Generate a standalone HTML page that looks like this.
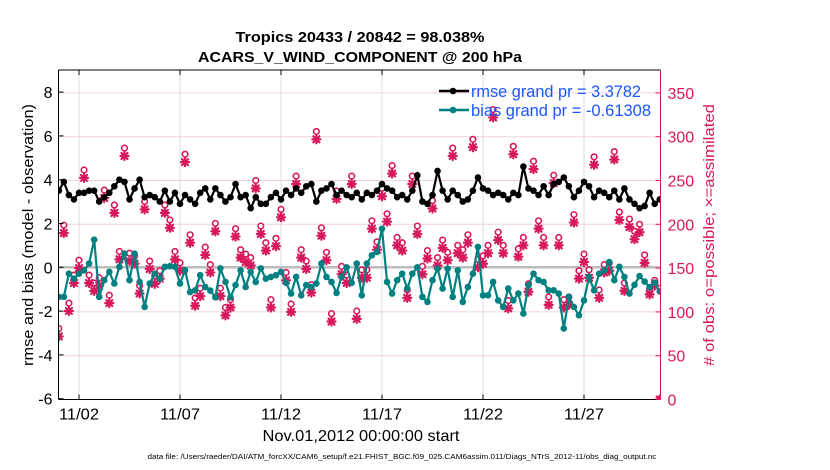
<!DOCTYPE html>
<html><head><meta charset="utf-8"><style>
html,body{margin:0;padding:0;background:#fff;}
svg{display:block;font-family:"Liberation Sans",Arial,sans-serif;}
</style></head><body>
<svg id="chart" width="830" height="470" viewBox="0 0 830 470" xmlns="http://www.w3.org/2000/svg">
<defs><clipPath id="plotclip"><rect x="58.5" y="70" width="602" height="330"/></clipPath></defs>
<text x="360" y="42" text-anchor="middle" font-size="15" font-weight="bold" textLength="249" lengthAdjust="spacingAndGlyphs">Tropics 20433 / 20842 = 98.038%</text>
<text x="360" y="62" text-anchor="middle" font-size="15" font-weight="bold" textLength="324" lengthAdjust="spacingAndGlyphs">ACARS_V_WIND_COMPONENT @ 200 hPa</text>
<g id="grid"></g>
<g id="marks" clip-path="url(#plotclip)"></g>
<g id="axes"></g>
<g id="legend"></g>
<text transform="translate(33,235) rotate(-90)" text-anchor="middle" font-size="15" textLength="262" lengthAdjust="spacingAndGlyphs">rmse and bias (model - observation)</text>
<text transform="translate(714,235) rotate(-90)" text-anchor="middle" font-size="15" fill="#d8185c" textLength="262" lengthAdjust="spacingAndGlyphs"># of obs: o=possible; ×=assimilated</text>
<text x="361" y="441" text-anchor="middle" font-size="16" textLength="197" lengthAdjust="spacingAndGlyphs">Nov.01,2012 00:00:00 start</text>
<text x="402" y="459" text-anchor="middle" font-size="7.5" textLength="509" lengthAdjust="spacingAndGlyphs">data file: /Users/raeder/DAI/ATM_forcXX/CAM6_setup/f.e21.FHIST_BGC.f09_025.CAM6assim.011/Diags_NTrS_2012-11/obs_diag_output.nc</text>
</svg>
<script>
const rmse = [3.5,3.9,3.3,3.1,3.4,3.4,3.5,3.5,3.0,3.2,3.4,3.7,4.0,3.9,3.1,3.6,4.0,3.2,3.3,3.2,3.0,3.5,3.0,3.4,2.9,3.3,3.1,2.9,3.4,3.6,
3.1,3.6,3.3,3.0,3.2,3.8,3.2,3.3,2.7,3.2,2.9,2.9,3.2,3.4,3.1,3.5,3.3,3.6,3.4,3.7,3.8,3.0,3.5,3.6,3.8,3.3,3.5,3.3,3.2,
3.4,3.1,3.4,3.3,3.5,3.8,3.6,3.5,3.2,3.3,3.1,3.5,4.2,3.0,2.9,3.3,4.4,3.5,3.1,3.5,3.3,3.0,3.1,3.5,4.1,3.6,3.5,3.3,
3.4,3.3,3.1,3.4,3.3,4.6,3.6,3.5,3.3,3.7,3.3,3.8,3.9,4.1,3.7,3.2,3.5,3.9,3.7,3.2,3.5,3.4,3.2,3.5,3.1,3.6,3.1,
2.9,2.7,2.8,3.4,2.9,3.1];
const bias = [-1.35,-1.35,-0.29,-0.52,-0.29,-0.14,0.17,1.26,-1.35,-0.59,-0.21,-0.74,0.02,0.62,-0.59,0.62,-0.67,-1.81,-0.74,-0.29,-0.52,0.02,0.05,0.02,-0.74,-0.14,-1.13,-1.05,-0.36,-0.90,
-1.06,-1.37,-0.05,-0.67,-1.37,-0.81,-0.14,-0.90,-0.21,-0.67,-0.05,-0.52,-0.44,-0.36,-0.21,-0.71,-1.20,-0.44,-1.28,-0.81,-0.90,-0.74,0.17,-0.44,-0.67,-1.17,-0.44,0.0,-0.71,
0.17,-1.28,0.17,0.55,0.70,1.76,-0.67,-1.20,-0.59,-0.29,-0.97,-0.29,0.0,-1.35,-1.58,-0.59,-0.06,-0.97,-0.06,-1.35,-0.14,-1.58,-0.90,-0.29,0.93,-1.28,-1.28,-0.67,
-1.51,-1.81,-0.97,-1.51,-1.20,-2.11,-0.82,-0.29,-0.59,-0.67,-1.05,-1.05,-1.20,-2.79,-1.35,-1.81,-2.19,-1.51,-0.44,-1.05,-0.29,-0.14,0.24,-0.59,0.02,-0.44,-1.20,
-0.8,-0.4,-0.65,-0.9,-0.7,-1.1];
const assimilated = [72,190,101,133,150,253,133,124,130,230,110,213,160,278,158,155,121,217,149,132,138,213,196,160,147,271,179,107,118,165,
145,192,118,96,105,186,162,157,153,241,189,170,105,175,208,136,100,246,162,149,122,297,187,159,89,229,143,
133,246,92,139,139,195,171,232,203,258,176,170,116,246,189,143,161,218,153,173,159,278,167,162,179,288,151,155,
167,322,182,167,104,280,163,176,123,263,195,176,108,247,176,105,108,202,138,157,139,268,116,145,147,274,205,124,197,
183,191,156,120,130,0];
const possible = [81,199,110,142,159,262,142,133,139,239,119,222,169,287,167,164,130,226,158,141,147,222,205,169,156,280,188,116,127,174,
154,201,127,105,114,195,171,166,162,250,198,179,114,184,217,145,109,255,171,158,131,306,196,168,98,238,152,
142,255,101,148,148,204,180,241,212,267,185,179,125,255,198,152,170,227,162,182,168,287,176,171,188,297,160,164,
176,331,191,176,113,289,172,185,132,272,204,185,117,256,185,114,117,211,147,166,148,277,125,154,156,283,214,133,206,
192,200,165,126,136,0];
const xTickDays = [1,6,11,16,21,26];
const xTickLabels = ["11/02","11/07","11/12","11/17","11/22","11/27"];
const leftTicks = [-6,-4,-2,0,2,4,6,8];
const rightTicks = [0,50,100,150,200,250,300,350];
const legendLabels = ["rmse grand pr = 3.3782","bias grand pr = -0.61308"];

const NS="http://www.w3.org/2000/svg";
const PL=58.5, PR=660.5, PT=70, PB=399.5;
const PINK="#d8185c", TEAL="#008080";
function xs(day){return PL+0.3+day*20.2;}
function yl(v){return 267.3-v*21.9;}
function yr(v){return PB-v*43.8/50;}
function dayOf(i){return i*0.25;}
function mk(tag,attrs,parent){const e=document.createElementNS(NS,tag);for(const k in attrs)e.setAttribute(k,attrs[k]);parent.appendChild(e);return e;}
const grid=document.getElementById('grid'),marks=document.getElementById('marks'),axes=document.getElementById('axes'),legend=document.getElementById('legend');

xTickDays.forEach(d=>{const l=mk('line',{x1:xs(d),x2:xs(d),y1:PT,y2:PB,stroke:"#dcdcdc","stroke-width":1},grid);

});
rightTicks.forEach(v=>{const l=mk('line',{x1:PL,x2:PR,y1:yr(v),y2:yr(v),stroke:"#f0d2dc","stroke-width":1},grid);

});
const z=mk('line',{x1:PL,x2:PR,y1:yl(0),y2:yl(0),stroke:"#bdbdbd","stroke-width":2.5},grid);



function star(cx,cy,parent){const g=mk('g',{stroke:PINK,"stroke-width":2.2,"stroke-linecap":"round"},parent);
const s=4;mk('line',{x1:cx-s,x2:cx+s,y1:cy,y2:cy},g);mk('line',{x1:cx,x2:cx,y1:cy-s,y2:cy+s},g);
mk('line',{x1:cx-3,x2:cx+3,y1:cy-3,y2:cy+3},g);mk('line',{x1:cx-3,x2:cx+3,y1:cy+3,y2:cy-3},g);return g;}
possible.forEach((v,i)=>{const c=mk('circle',{cx:xs(dayOf(i)),cy:yr(v),r:2.8,fill:"#fff",stroke:PINK,"stroke-width":1.6},marks);

});
assimilated.forEach((v,i)=>{const g=star(xs(dayOf(i)),yr(v),marks);

});

function series(vals,color,name){
 const pts=vals.map((v,i)=>xs(dayOf(i)).toFixed(1)+","+yl(v).toFixed(1)).join(" ");
 const pl=mk('polyline',{points:pts,fill:"none",stroke:color,"stroke-width":2.2},marks);
 
 
 vals.forEach((v,i)=>{const c=mk('circle',{cx:xs(dayOf(i)),cy:yl(v),r:3.3,fill:color},marks);
 
 });
}
series(bias,TEAL,'bias');
series(rmse,"#000",'rmse');

const frame=[[PL,PT,PL,PB,"#000"],[PL,PB,PR,PB,"#000"],[PL,PT,PR,PT,"#000"],[PR,PT,PR,PB,PINK]];
frame.forEach(f=>{const l=mk('line',{x1:f[0],y1:f[1],x2:f[2],y2:f[3],stroke:f[4],"stroke-width":1},axes);

});
xTickDays.forEach((d,i)=>{mk('line',{x1:xs(d),x2:xs(d),y1:PB,y2:PB-5,stroke:"#000"},axes);mk('line',{x1:xs(d),x2:xs(d),y1:PT,y2:PT+5,stroke:"#000"},axes);
const t=mk('text',{x:xs(d),y:PB+20,"text-anchor":"middle","font-size":16,textLength:40,lengthAdjust:"spacingAndGlyphs"},axes);t.textContent=xTickLabels[i];

});
leftTicks.forEach(v=>{mk('line',{x1:PL,x2:PL+5,y1:yl(v),y2:yl(v),stroke:"#000"},axes);
const t=mk('text',{x:PL-6,y:yl(v)+6,"text-anchor":"end","font-size":16},axes);t.textContent=v;

});
rightTicks.forEach(v=>{mk('line',{x1:PR,x2:PR-5,y1:yr(v),y2:yr(v),stroke:PINK},axes);
const t=mk('text',{x:PR+7,y:yr(v)+6,"font-size":16,fill:PINK},axes);t.textContent=v;

});

const lc=["#000",TEAL];
const lw=[170,180];
legendLabels.forEach((s,i)=>{const y=91+i*19;
const g=mk('g',{},legend);


mk('line',{x1:439,x2:469,y1:y,y2:y,stroke:lc[i],"stroke-width":2.5},g);
mk('circle',{cx:453,cy:y,r:3.3,fill:lc[i]},g);
const t=mk('text',{x:471,y:y+6,"font-size":17,fill:"#1a56ff",textLength:lw[i],lengthAdjust:"spacingAndGlyphs"},g);t.textContent=s;});
</script>
</body></html>
